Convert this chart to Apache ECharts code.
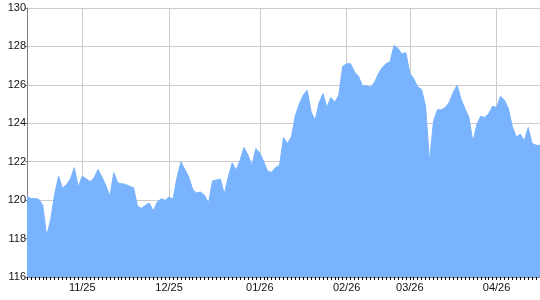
<!DOCTYPE html>
<html>
<head>
<meta charset="utf-8">
<script src="https://cdn.jsdelivr.net/npm/echarts@6/dist/echarts.min.js"></script>
<style>html,body{margin:0;padding:0;background:#fff;}#c{width:540px;height:300px;}</style>
</head>
<body>
<div id="c"></div>
<script>
// Series values, one per trading day
const values = [
  120.2, 120.08, 120.08, 120.04, 119.73, 118.13, 119.0, 120.3, 121.25, 120.62,
  120.8, 121.1, 121.69, 120.68, 121.25, 121.11, 120.97, 121.15, 121.6, 121.2,
  120.75, 120.21, 121.43, 120.9, 120.85, 120.82, 120.72, 120.65, 119.69, 119.57,
  119.73, 119.85, 119.43, 119.9, 120.07, 119.99, 120.16, 120.04, 121.17, 121.98,
  121.6, 121.2, 120.55, 120.37, 120.42, 120.25, 119.83, 121.0, 121.05, 121.1,
  120.32, 121.2, 121.94, 121.56, 122.08, 122.74, 122.34, 121.82, 122.69, 122.46,
  122.0, 121.5, 121.45, 121.7, 121.82, 123.26, 122.95, 123.3, 124.4, 125.0,
  125.46, 125.72, 124.6, 124.16, 125.06, 125.54, 124.82, 125.34, 125.1, 125.46,
  126.96, 127.1, 127.1, 126.67, 126.45, 125.95, 125.95, 125.88, 126.1, 126.55,
  126.9, 127.1, 127.2, 128.05, 127.9, 127.6, 127.68, 126.62, 126.32, 125.9,
  125.75, 124.9, 122.0, 124.1, 124.7, 124.7, 124.82, 125.1, 125.6, 125.98,
  125.25, 124.76, 124.3, 123.03, 123.95, 124.37, 124.3, 124.5, 124.89, 124.82,
  125.4, 125.2, 124.76, 123.81, 123.29, 123.43, 123.09, 123.78, 122.95, 122.86,
  122.85
];
// Tick labels and the category index where each one sits
const tickLabels = ['11/25', '12/25', '01/26', '02/26', '03/26', '04/26'];
const tickIndex = [14, 36, 59, 81, 97, 119];
// Categories (one per point)
const categories = values.map((v, i) => String(i));

const labelAt = {};
tickIndex.forEach((idx, j) => { labelAt[idx] = tickLabels[j]; });
const isLabelled = (index) => labelAt[index] !== undefined;

const chart = echarts.init(document.getElementById('c'), null, { renderer: 'canvas' });
chart.setOption({
  animation: false,
  backgroundColor: '#ffffff',
  grid: { left: 27, top: 8, width: 514, bottom: 23, containLabel: false },
  xAxis: {
    type: 'category',
    data: categories,
    boundaryGap: false,
    axisLine: { show: true, lineStyle: { color: '#808080', width: 1 } },
    axisTick: { show: true, interval: 0, length: 3, lineStyle: { color: '#000000', width: 1 } },
    axisLabel: {
      interval: (index) => isLabelled(index),
      formatter: (value, index) => labelAt[index] || '',
      hideOverlap: false,
      margin: 5,
      color: '#111111',
      fontFamily: 'Liberation Sans, Arial, sans-serif',
      fontSize: 11
    },
    splitLine: {
      show: true,
      interval: (index) => isLabelled(index),
      lineStyle: { color: '#cccccc', width: 1 }
    }
  },
  yAxis: {
    type: 'value',
    min: 116,
    max: 130,
    interval: 2,
    axisLine: { show: true, lineStyle: { color: '#808080', width: 1 } },
    axisTick: { show: true, length: 2, lineStyle: { color: '#808080' } },
    axisLabel: {
      margin: 1,
      color: '#111111',
      fontFamily: 'Liberation Sans, Arial, sans-serif',
      fontSize: 11
    },
    splitLine: { show: true, lineStyle: { color: '#cccccc', width: 1 } }
  },
  series: [{
    type: 'line',
    data: values,
    symbol: 'none',
    smooth: false,
    lineStyle: { color: '#79b3fe', width: 1 },
    areaStyle: { color: '#79b3fe', opacity: 1 },
    z: 2
  }]
});
</script>
</body>
</html>
